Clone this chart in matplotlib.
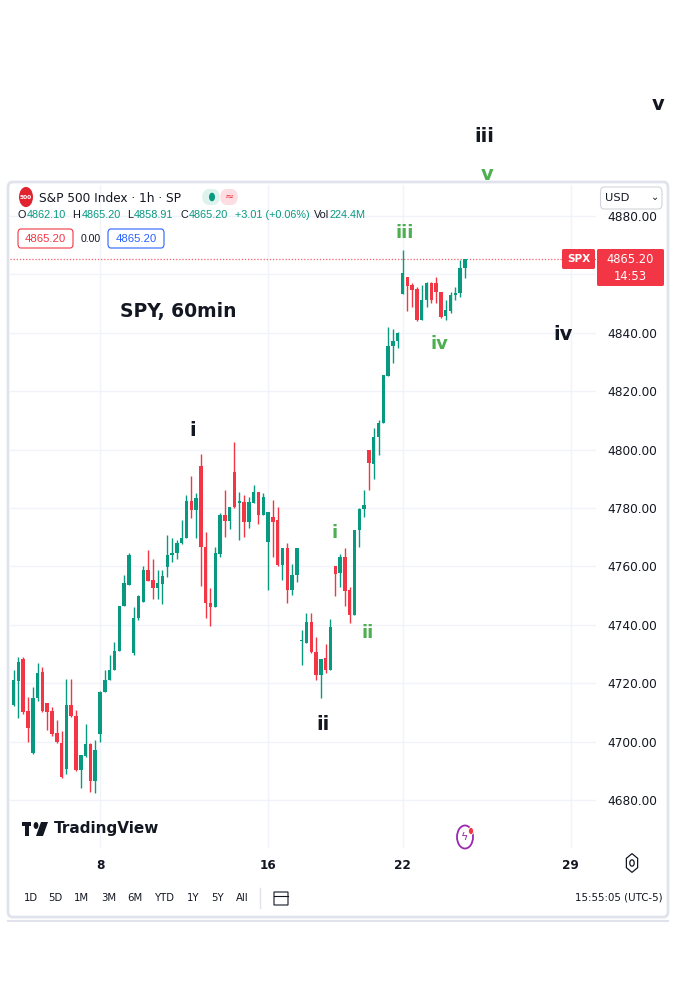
import matplotlib
matplotlib.use("Agg")
import matplotlib.pyplot as plt
from matplotlib.patches import FancyBboxPatch, Circle, RegularPolygon

# hourly SPX candles, Jan 3 (last 4 bars) .. Jan 23, 2024
opens = [4712.7, 4720.8, 4728.3, 4710.4, 4696.0, 4714.8, 4723.7, 4713.1, 4710.4, 4703.0,
         4699.6, 4690.5, 4712.5, 4708.8, 4690.3, 4695.1, 4699.1, 4686.6, 4702.6, 4717.0,
         4721.1, 4724.5, 4731.0, 4746.5, 4753.6, 4730.2, 4742.2, 4747.9, 4758.8, 4755.3,
         4752.7, 4754.0, 4759.9, 4763.8, 4764.7, 4767.9, 4769.6, 4782.5, 4779.3, 4794.5,
         4766.5, 4747.6, 4746.2, 4764.2, 4777.6, 4775.5, 4792.4, 4781.6, 4782.2, 4775.3,
         4781.6, 4785.6, 4777.6, 4768.5, 4777.0, 4775.9, 4760.5, 4766.2, 4751.9, 4757.1,
         4734.5, 4733.7, 4741.1, 4730.8, 4722.8, 4728.5, 4724.5, 4760.1, 4757.6, 4763.1,
         4751.9, 4743.4, 4772.5, 4779.6, 4799.7, 4795.1, 4804.4, 4809.2, 4825.2, 4835.5,
         4837.2, 4853.3, 4859.0, 4856.4, 4854.9, 4844.4, 4851.2, 4857.0, 4857.0, 4854.1,
         4845.8, 4847.6, 4853.0, 4853.5, 4862.1]
highs = [4724.7, 4728.9, 4729.0, 4715.4, 4718.8, 4726.8, 4725.6, 4713.2, 4712.0, 4707.4,
         4703.6, 4721.3, 4721.3, 4710.8, 4695.5, 4706.2, 4699.5, 4700.5, 4717.2, 4724.5,
         4729.6, 4734.2, 4746.6, 4757.0, 4764.5, 4746.2, 4750.2, 4760.1, 4765.6, 4762.7,
         4758.8, 4758.8, 4770.7, 4769.6, 4769.0, 4775.9, 4784.4, 4791.0, 4785.0, 4798.5,
         4771.9, 4752.5, 4766.7, 4778.2, 4786.2, 4780.2, 4802.7, 4785.6, 4784.4, 4783.9,
         4788.0, 4785.6, 4785.0, 4778.7, 4782.7, 4780.5, 4766.2, 4767.9, 4761.0, 4766.2,
         4738.2, 4743.9, 4744.2, 4735.9, 4728.2, 4733.4, 4741.9, 4760.1, 4764.3, 4766.2,
         4753.1, 4772.5, 4779.9, 4786.2, 4799.7, 4807.3, 4810.1, 4825.5, 4842.1, 4841.2,
         4840.4, 4868.4, 4859.2, 4857.2, 4855.8, 4856.4, 4857.5, 4857.5, 4859.2, 4854.1,
         4851.2, 4854.1, 4855.8, 4864.9, 4865.2]
lows = [4712.3, 4708.0, 4709.5, 4699.8, 4695.9, 4714.0, 4710.0, 4704.0, 4702.0, 4699.5,
        4687.6, 4688.8, 4708.5, 4690.0, 4684.3, 4694.8, 4682.8, 4682.3, 4699.9, 4717.0,
        4721.0, 4724.5, 4731.0, 4746.5, 4753.6, 4729.6, 4741.6, 4747.9, 4755.0, 4748.7,
        4749.0, 4747.3, 4756.5, 4761.6, 4762.4, 4767.7, 4769.6, 4776.5, 4769.6, 4753.4,
        4742.2, 4739.6, 4746.0, 4763.3, 4770.0, 4772.7, 4780.0, 4769.0, 4770.2, 4773.0,
        4781.6, 4774.7, 4777.6, 4751.9, 4763.3, 4760.1, 4755.3, 4747.4, 4750.2, 4754.8,
        4726.2, 4733.7, 4730.2, 4721.1, 4714.8, 4723.6, 4724.5, 4749.9, 4752.8, 4746.4,
        4740.7, 4743.4, 4766.8, 4777.0, 4786.2, 4789.8, 4798.2, 4809.2, 4825.2, 4829.5,
        4834.7, 4853.3, 4847.5, 4849.0, 4844.2, 4844.4, 4849.0, 4850.3, 4850.3, 4845.0,
        4844.4, 4846.7, 4851.2, 4852.1, 4858.9]
closes = [4721.1, 4727.2, 4710.2, 4704.8, 4715.0, 4723.6, 4710.6, 4710.2, 4702.6, 4699.8,
          4688.0, 4712.5, 4708.7, 4690.3, 4695.3, 4699.1, 4686.6, 4697.1, 4717.1, 4721.1,
          4724.5, 4731.0, 4746.5, 4754.2, 4763.9, 4742.2, 4750.0, 4758.8, 4755.1, 4752.7,
          4754.4, 4756.7, 4763.9, 4764.7, 4768.1, 4769.6, 4782.5, 4779.3, 4783.3, 4766.5,
          4747.6, 4746.2, 4764.5, 4777.6, 4775.5, 4780.2, 4780.4, 4782.5, 4775.3, 4782.2,
          4785.6, 4777.6, 4783.9, 4778.7, 4775.3, 4760.5, 4766.2, 4751.9, 4757.1, 4766.2,
          4734.7, 4741.1, 4730.8, 4722.8, 4728.2, 4724.5, 4739.4, 4757.4, 4763.1, 4751.7,
          4743.4, 4772.5, 4779.5, 4781.0, 4795.5, 4804.4, 4809.2, 4825.5, 4835.5, 4837.2,
          4839.8, 4860.4, 4856.0, 4854.7, 4844.4, 4851.2, 4857.0, 4851.2, 4854.1, 4845.5,
          4847.8, 4853.0, 4853.7, 4862.3, 4865.2]

day_labels = ["8", "16", "22", "29"]
day_bar_index = [18, 53, 81, 116]
price_ticks = [4680, 4700, 4720, 4740, 4760, 4780, 4800, 4820, 4840, 4860, 4880]
last_price = 4865.20

GREEN = "#089981"
RED = "#F23645"
DARK = "#131722"
WAVE_GREEN = "#4caf50"

W, H = 698, 1006


def fx(x):
    return x / W


def fy(y):
    return 1 - y / H


fig = plt.figure(figsize=(W / 100, H / 100), dpi=100)
fig.patch.set_facecolor("white")

ax = fig.add_axes([fx(10), fy(848), (596 - 10) / W, (848 - 185) / H])
ax.set_facecolor("white")

idx = list(range(len(opens)))
colors = [GREEN if c >= o else RED for o, c in zip(opens, closes)]
bottoms = [min(o, c) for o, c in zip(opens, closes)]
heights = [max(abs(c - o), 0.4) for o, c in zip(opens, closes)]

ax.vlines(idx, lows, highs, colors=colors, linewidth=1.0, zorder=2)
ax.bar(idx, heights, bottom=bottoms, width=0.72, color=colors, linewidth=0, zorder=3)

ax.axhline(last_price, color=RED, linestyle=(0, (1, 1.5)), linewidth=0.9,
           alpha=0.8, zorder=1)

ax.set_xlim(-0.75, 121.3)
ax.set_ylim(4663.6, 4890.6)
ax.set_yticks(price_ticks)
# the 4860 label sits under the last-price tag, so it is not shown
ax.set_yticklabels(["" if p == 4860 else f"{p:.2f}" for p in price_ticks])
ax.yaxis.tick_right()
ax.set_xticks(day_bar_index)
ax.set_xticklabels(day_labels)
ax.tick_params(axis="y", length=0, pad=8, labelsize=8.7, labelcolor=DARK)
ax.tick_params(axis="x", length=0, pad=8, labelsize=8.7, labelcolor=DARK)
for lbl in ax.get_xticklabels():
    lbl.set_fontweight("semibold")
ax.grid(True, color="#f0f3fa", linewidth=1, zorder=0)
ax.set_axisbelow(True)
for s in ax.spines.values():
    s.set_visible(False)


def box(x0, y0, x1, y1, fc, ec="none", lw=1, r=0.0, z=5):
    p = FancyBboxPatch((fx(x0), fy(y1)), (x1 - x0) / W, (y1 - y0) / H,
                       boxstyle=f"round,pad=0,rounding_size={r}",
                       transform=fig.transFigure, facecolor=fc, edgecolor=ec,
                       linewidth=lw, zorder=z)
    fig.patches.append(p)


def txt(x, y, s, size, color=DARK, weight="normal", ha="left", va="center", z=10,
        family=None, **kw):
    fig.text(fx(x), fy(y), s, fontsize=size, color=color, fontweight=weight,
             ha=ha, va=va, zorder=z, family=family or "DejaVu Sans", **kw)


# widget frame
box(8, 182, 668, 917, "none", ec="#e0e3eb", lw=2, r=0.006, z=4)
fig.lines.append(plt.Line2D([fx(8), fx(668)], [fy(921), fy(921)],
                            transform=fig.transFigure, color="#e0e3eb", lw=1.5))

# header legend
fig.patches.append(Circle((fx(26), fy(197)), 7 / W, transform=fig.transFigure,
                          facecolor="#e0232f", edgecolor="none", zorder=6))
txt(26, 197.5, "500", 4.2, color="white", weight="bold", ha="center", z=11)
txt(39, 198, "S&P 500 Index · 1h · SP", 8.7)
box(202, 189, 220, 205, "#dff3ee", r=0.01)
box(220, 189, 238, 205, "#fcdde2", r=0.01)
fig.patches.append(Circle((fx(212), fy(197)), 3 / W, transform=fig.transFigure,
                          facecolor=GREEN, edgecolor="none", zorder=6))
txt(229, 197, "≈", 8, color=RED, ha="center")

ohlc_parts = [("O", 17.5, DARK), ("4862.10", 26.5, GREEN), ("H", 72, DARK),
              ("4865.20", 82, GREEN), ("L", 127.5, DARK), ("4858.91", 134, GREEN),
              ("C", 180.5, DARK), ("4865.20", 189, GREEN), ("+3.01 (+0.06%)", 235, GREEN),
              ("Vol", 314, DARK), ("224.4M", 330, GREEN)]
for s, x, c in ohlc_parts:
    txt(x, 214.5, s, 7.8, color=c, family="Liberation Sans")

box(18, 229, 73, 248, "white", ec=RED, lw=0.8, r=0.004)
txt(45.5, 238.5, "4865.20", 8.2, color=RED, ha="center", family="Liberation Sans")
txt(90.5, 238.5, "0.00", 7.6, ha="center", family="Liberation Sans")
box(108, 229, 164, 248, "white", ec="#2962ff", lw=0.8, r=0.004)
txt(136, 238.5, "4865.20", 8.2, color="#2962ff", ha="center", family="Liberation Sans")

# currency selector
box(600.5, 187, 662, 209, "white", ec="#d1d4dc", lw=0.8, r=0.005, z=7)
txt(605, 198, "USD", 8.2, z=12)
txt(655, 197, "⌄", 7, ha="center", z=12)

# last price labels
box(562, 249, 595, 269, RED, r=0.002)
txt(578.5, 259, "SPX", 7.6, color="white", weight="bold", ha="center")
box(597, 249, 664, 286, RED, r=0.002)
txt(630.5, 268, "4865.20\n14:53", 8.3, color="white", ha="center",
    linespacing=1.45)

# wave labels
txt(484, 137, "iii", 14, weight="bold", ha="center")
txt(658, 104, "v", 14, weight="bold", ha="center")
txt(487, 174, "v", 14, color=WAVE_GREEN, weight="bold", ha="center")
txt(405, 233, "iii", 13, color=WAVE_GREEN, weight="bold", ha="center")
txt(178, 312, "SPY, 60min", 13.5, weight="bold", ha="center")
txt(193, 430, "i", 14, weight="bold", ha="center")
txt(563, 335, "iv", 14, weight="bold", ha="center")
txt(439, 344, "iv", 13, color=WAVE_GREEN, weight="bold", ha="center")
txt(335, 533, "i", 13, color=WAVE_GREEN, weight="bold", ha="center")
txt(368, 633, "ii", 13, color=WAVE_GREEN, weight="bold", ha="center")
txt(323, 724, "ii", 14, weight="bold", ha="center")

# TradingView watermark
box(22, 822, 31, 826, DARK, z=6)
box(25, 822, 29, 836, DARK, z=6)
fig.patches.append(Circle((fx(36), fy(825.5)), 2.4 / W, transform=fig.transFigure,
                          facecolor=DARK, edgecolor="none", zorder=6))
fig.patches.append(plt.Polygon([(fx(41), fy(822)), (fx(48), fy(822)), (fx(43), fy(836)),
                                (fx(36), fy(836))], closed=True, transform=fig.transFigure,
                               facecolor=DARK, edgecolor="none", zorder=6))
txt(54, 829, "TradingView", 11, weight="semibold")

# replay icon
fig.patches.append(Circle((fx(465), fy(837)), 8 / W, transform=fig.transFigure,
                          facecolor="none", edgecolor="#9c27b0", linewidth=1.3, zorder=6))
fig.patches.append(Circle((fx(471), fy(831)), 2.5 / W, transform=fig.transFigure,
                          facecolor=RED, edgecolor="white", linewidth=0.6, zorder=7))
txt(465, 837.5, "ϟ", 8, color="#9c27b0", ha="center")

# settings icon
fig.patches.append(RegularPolygon((fx(632), fy(863)), 6, radius=6.5 / W,
                                  transform=fig.transFigure, facecolor="none",
                                  edgecolor=DARK, linewidth=0.9, zorder=6))
fig.patches.append(Circle((fx(632), fy(863)), 2.2 / W, transform=fig.transFigure,
                          facecolor="none", edgecolor=DARK, linewidth=0.9, zorder=6))

# bottom toolbar
ranges = ["1D", "5D", "1M", "3M", "6M", "YTD", "1Y", "5Y", "All"]
range_x = [30.5, 55.5, 81, 108.5, 135, 164.5, 193, 217, 242.5]
for s, x in zip(ranges, range_x):
    txt(x, 898, s, 7.3, ha="center")
fig.lines.append(plt.Line2D([fx(260), fx(260)], [fy(888), fy(908)],
                            transform=fig.transFigure, color="#e0e3eb", lw=1))
box(274, 892, 288, 905, "none", ec=DARK, lw=0.8, z=6)
fig.lines.append(plt.Line2D([fx(274), fx(288)], [fy(895.5), fy(895.5)],
                            transform=fig.transFigure, color=DARK, lw=0.8))
txt(663, 898, "15:55:05 (UTC-5)", 7.4, ha="right")

fig.savefig("out.png", dpi=100, facecolor="white")
